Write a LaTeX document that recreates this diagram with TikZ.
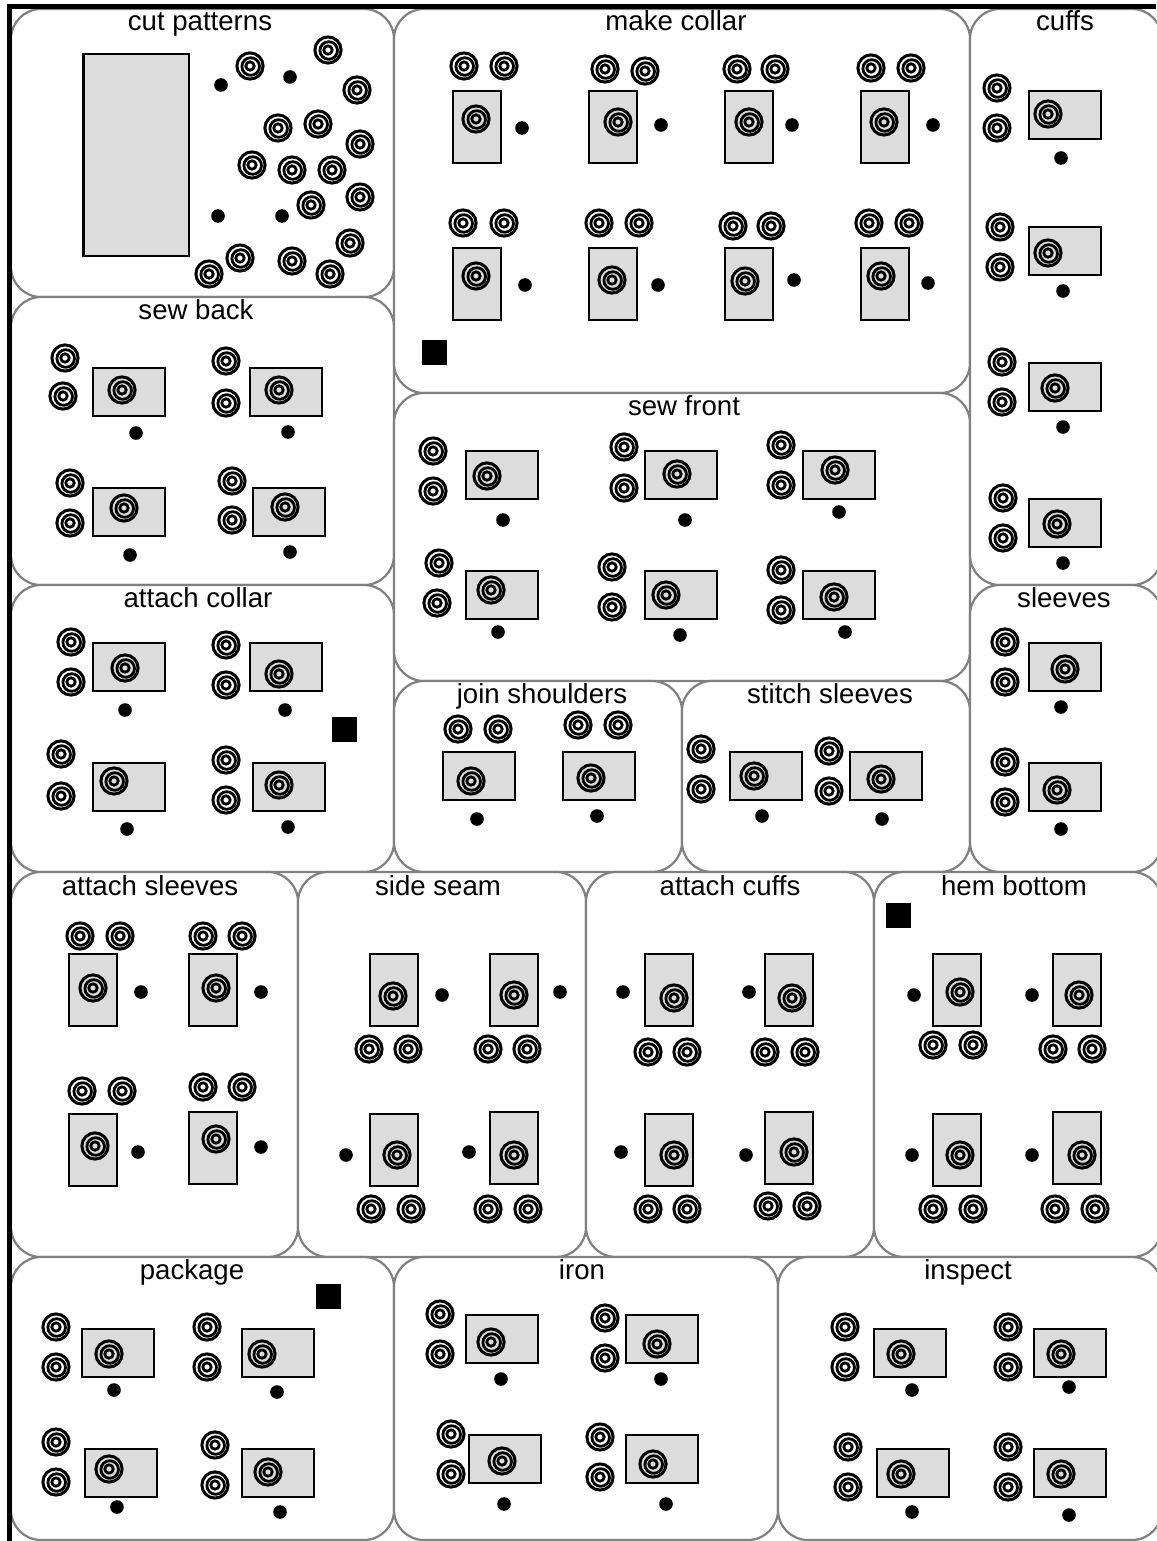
\documentclass[tikz,border=0pt]{standalone}
\usepackage{fontspec}
\setmainfont{Liberation Sans}
\usetikzlibrary{positioning}
\definecolor{panelLine}{RGB}{128,128,128}
\definecolor{machineFill}{RGB}{220,220,220}
\tikzset{
  panelbox/.style={rectangle, draw=panelLine, fill=white, line width=2.2pt, rounded corners=30pt,
    anchor=north west, inner sep=0pt, outer sep=0pt},
  paneltext/.style={font=\fontsize{27.6}{30}\selectfont, inner sep=0pt, text=black, anchor=base},
  widebox/.style={rectangle, draw=black, fill=machineFill, line width=2.5pt, minimum width=72pt,
    minimum height=48pt, inner sep=0pt, outer sep=0pt},
  tallbox/.style={widebox, minimum width=48pt, minimum height=72pt},
  operator/.style={circle, fill=black, minimum size=13.6pt, inner sep=0pt},
  supplybox/.style={rectangle, fill=black, minimum size=25pt, inner sep=0pt},
  spoolline/.style={draw=black, line width=3pt},
  spool/.pic={
    \draw[spoolline] (0,0) circle (13.1);
    \draw[spoolline, line width=2.8pt] (0.7,0.5) circle (8.8);
    \draw[spoolline, line width=2.8pt] (0,0) circle (4.2);
  },
}
\newcommand{\station}[7]{
  \node[#1] (#2) at (#3) {};
  \pic (#2-work) at (#4) {spool};
  \pic (#2-a) at (#5) {spool};
  \pic (#2-b) at (#6) {spool};
  \node[operator] (#2-op) at (#7) {};
}
\begin{document}
\begin{tikzpicture}[x=1pt, y=-1pt]
  \useasboundingbox (0,0) rectangle (1156,1541);
  \fill[white] (0,0) rectangle (1156,1541);

  % departments
  \foreach \nm/\px/\py/\pw/\ph/\lx/\ly/\txt in {
    cut/11/9/383/288/200/31/cut patterns,
    back/11/297/383/288/196/319/sew back,
    attach/11/585/383/287/198/607/attach collar,
    collar/394/9/576/384/676/31/make collar,
    front/394/393/576/288/684/415/sew front,
    shoulders/394/681/288/191/542/703/join shoulders,
    stitch/682/681/288/191/830/703/stitch sleeves,
    cuffs/970/9/192/576/1065/31/cuffs,
    sleeves/970/585/192/287/1064/607/sleeves,
    asleeves/11/872/287/385/150/895/attach sleeves,
    seam/298/872/288/385/438/895/side seam,
    acuffs/586/872/288/385/730/895/attach cuffs,
    hem/874/872/288/385/1014/895/hem bottom,
    package/11/1257/383/283/192/1279/package,
    iron/394/1257/384/283/582/1279/iron,
    inspect/778/1257/384/283/968/1279/inspect}
  {
    \node[panelbox, minimum width=\pw pt, minimum height=\ph pt] (\nm) at (\px,\py) {};
    \node[paneltext] (\nm-label) at (\lx,\ly) {\txt};
  }

  % cut patterns
  \node[widebox, minimum width=105.5pt, minimum height=201.5pt] (table) at (136,155) {};
  \foreach \n/\sx/\sy in {1/250/66,2/328/50,3/357/90,4/278/128,5/318/124,6/360/144,7/252/165,8/292/170,
    9/332/170,10/360/197,11/311/205,12/350/243,13/240/258,14/292/261,15/330/274,16/209/274}
    \pic (cut-s\n) at (\sx,\sy) {spool};
  \foreach \n/\sx/\sy in {1/221/85,2/290/77,3/218/216,4/282/216}
    \node[operator] (cut-op\n) at (\sx,\sy) {};

  % make collar
  \station{tallbox}{mc1}{477,127}{476,119}{464,66}{504,66}{522,128}
  \station{tallbox}{mc2}{613,127}{618,122}{605,69}{645,71}{661,125}
  \station{tallbox}{mc3}{749,127}{749,122}{737,69}{775,69}{792,125}
  \station{tallbox}{mc4}{885,127}{884,122}{871,68}{911,68}{933,125}
  \station{tallbox}{mc5}{477,284}{476,276}{463,223}{504,223}{525,285}
  \station{tallbox}{mc6}{613,284}{612,280}{599,223}{639,223}{658,285}
  \station{tallbox}{mc7}{749,284}{745,281}{733,226}{771,226}{794,280}
  \station{tallbox}{mc8}{885,284}{881,276}{869,223}{909,223}{928,283}
  \node[supplybox] (mc-supply) at (434,352) {};

  % sew back
  \station{widebox}{sb1}{129,392}{122,390}{65,358}{63,396}{136,433}
  \station{widebox}{sb2}{286,392}{279,390}{226,361}{226,403}{288,432}
  \station{widebox}{sb3}{129,512}{124,508}{70,483}{70,523}{130,555}
  \station{widebox}{sb4}{289,512}{285,507}{232,481}{232,520}{290,552}

  % attach collar
  \station{widebox}{ac1}{129,667}{125,668}{71,642}{71,682}{125,710}
  \station{widebox}{ac2}{286,667}{279,674}{226,645}{226,685}{285,710}
  \station{widebox}{ac3}{129,787}{114,781}{61,754}{61,796}{127,829}
  \station{widebox}{ac4}{289,787}{279,785}{226,760}{226,800}{288,827}
  \node[supplybox] (ac-supply) at (344,729) {};

  % sew front
  \station{widebox}{sf1}{502,475}{487,476}{433,451}{433,491}{503,520}
  \station{widebox}{sf2}{681,475}{677,474}{624,447}{624,488}{685,520}
  \station{widebox}{sf3}{839,475}{835,470}{781,445}{781,485}{839,512}
  \station{widebox}{sf4}{502,595}{491,590}{439,563}{437,603}{498,632}
  \station{widebox}{sf5}{681,595}{666,595}{612,567}{612,607}{680,635}
  \station{widebox}{sf6}{839,595}{834,597}{781,570}{781,610}{845,632}

  % join shoulders, stitch sleeves
  \station{widebox}{js1}{479,776}{471,781}{458,729}{498,729}{477,819}
  \station{widebox}{js2}{599,776}{591,778}{578,725}{618,725}{597,816}
  \station{widebox}{ss1}{766,776}{754,776}{701,749}{701,789}{762,816}
  \station{widebox}{ss2}{886,776}{881,779}{829,751}{829,791}{882,819}

  % cuffs, sleeves
  \station{widebox}{cf1}{1065,115}{1048,114}{997,88}{997,128}{1061,158}
  \station{widebox}{cf2}{1065,251}{1048,253}{1000,227}{1000,267}{1063,291}
  \station{widebox}{cf3}{1065,387}{1055,388}{1002,362}{1002,402}{1063,427}
  \station{widebox}{cf4}{1065,523}{1057,524}{1003,498}{1003,538}{1063,563}
  \station{widebox}{sl1}{1065,667}{1065,669}{1005,642}{1005,682}{1061,707}
  \station{widebox}{sl2}{1065,787}{1057,790}{1005,762}{1005,802}{1061,829}

  % attach sleeves
  \station{tallbox}{as1}{93,990}{93,988}{80,936}{120,936}{141,992}
  \station{tallbox}{as2}{213,990}{216,988}{203,936}{242,936}{261,992}
  \station{tallbox}{as3}{93,1150}{95,1146}{82,1091}{122,1091}{138,1152}
  \station{tallbox}{as4}{213,1148}{216,1139}{203,1087}{242,1087}{261,1147}

  % side seam
  \station{tallbox}{se1}{394,990}{393,996}{369,1049}{408,1049}{442,995}
  \station{tallbox}{se2}{514,990}{514,995}{488,1049}{527,1049}{560,992}
  \station{tallbox}{se3}{394,1150}{397,1155}{371,1209}{411,1209}{346,1155}
  \station{tallbox}{se4}{514,1148}{514,1155}{488,1209}{528,1209}{469,1152}

  % attach cuffs
  \station{tallbox}{ca1}{669,990}{674,998}{648,1052}{687,1052}{623,992}
  \station{tallbox}{ca2}{789,990}{792,998}{765,1052}{805,1052}{749,992}
  \station{tallbox}{ca3}{669,1150}{674,1155}{648,1209}{687,1209}{621,1152}
  \station{tallbox}{ca4}{789,1148}{794,1152}{768,1206}{807,1206}{746,1155}

  % hem bottom
  \station{tallbox}{hb1}{957,990}{960,992}{933,1045}{973,1045}{914,995}
  \station{tallbox}{hb2}{1077,990}{1079,995}{1053,1049}{1092,1049}{1032,995}
  \station{tallbox}{hb3}{957,1150}{960,1155}{933,1209}{973,1209}{912,1155}
  \station{tallbox}{hb4}{1077,1148}{1082,1155}{1055,1209}{1095,1209}{1032,1155}
  \node[supplybox] (hb-supply) at (898,915) {};

  % package
  \station{widebox}{pk1}{118,1353}{109,1354}{56,1327}{56,1367}{114,1390}
  \station{widebox}{pk2}{278,1353}{262,1354}{207,1327}{207,1367}{277,1392}
  \station{widebox}{pk3}{121,1473}{109,1469}{56,1442}{56,1482}{117,1507}
  \station{widebox}{pk4}{278,1473}{268,1472}{215,1445}{215,1485}{280,1512}
  \node[supplybox] (pk-supply) at (328,1296) {};

  % iron
  \station{widebox}{ir1}{502,1339}{491,1342}{440,1314}{440,1354}{501,1379}
  \station{widebox}{ir2}{662,1339}{657,1344}{605,1318}{605,1358}{661,1379}
  \station{widebox}{ir3}{505,1459}{502,1461}{451,1434}{451,1474}{504,1504}
  \station{widebox}{ir4}{662,1459}{653,1464}{600,1437}{600,1477}{666,1504}

  % inspect
  \station{widebox}{in1}{910,1353}{901,1354}{845,1327}{845,1367}{912,1390}
  \station{widebox}{in2}{1070,1353}{1061,1354}{1008,1327}{1008,1367}{1069,1387}
  \station{widebox}{in3}{913,1473}{901,1474}{848,1447}{848,1487}{912,1512}
  \station{widebox}{in4}{1070,1473}{1061,1474}{1008,1447}{1008,1487}{1069,1515}

  % frame
  \draw[black, line width=5pt] (9.2,1541) -- (9.2,6.5) -- (1156,6.5);
\end{tikzpicture}
\end{document}
